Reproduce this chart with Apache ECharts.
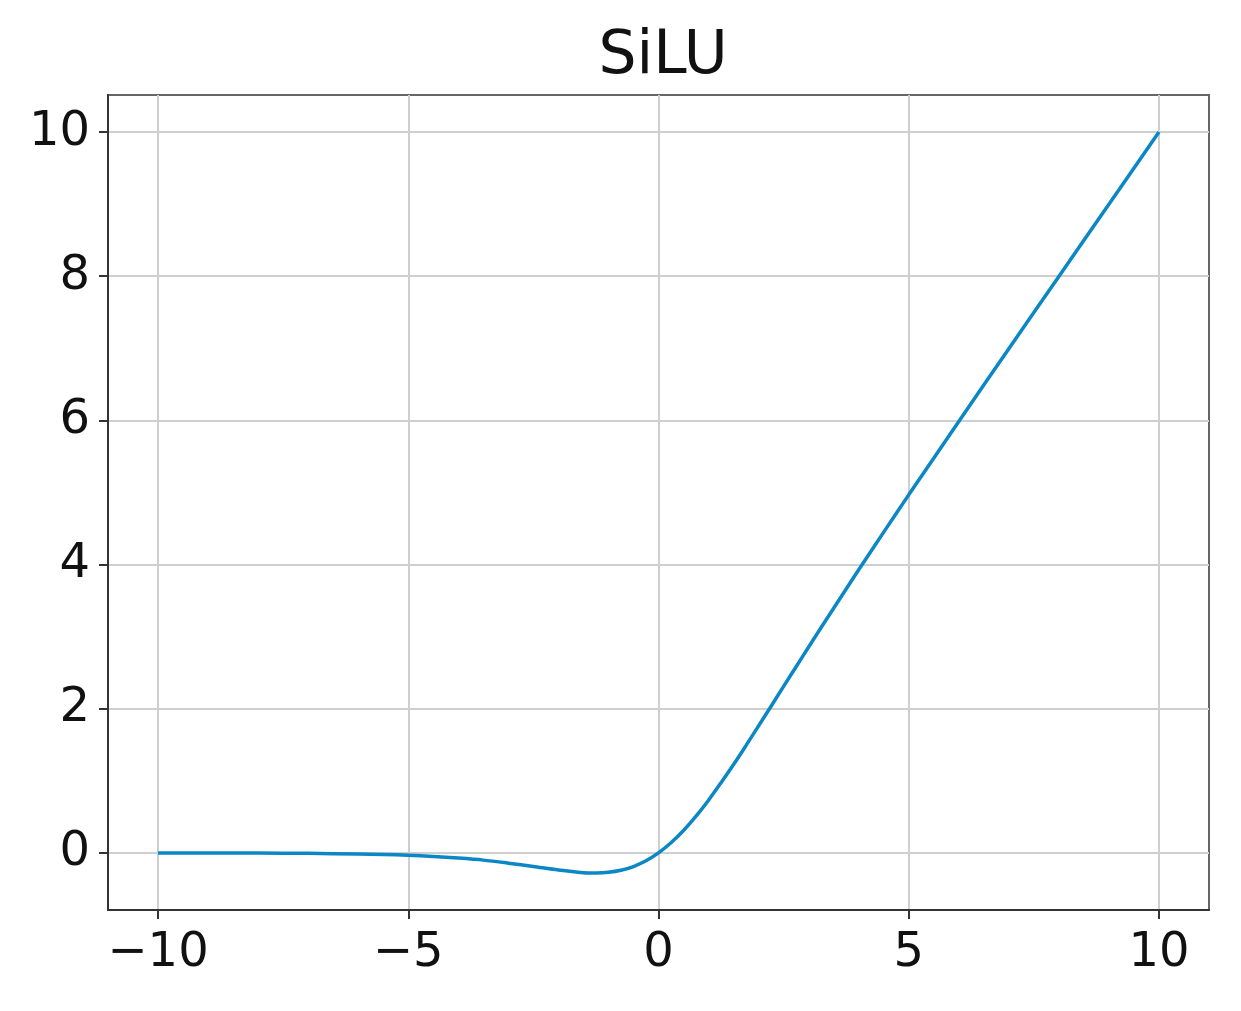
<!DOCTYPE html>
<html>
<head>
<meta charset="utf-8">
<title>SiLU</title>
<script src="https://cdn.jsdelivr.net/npm/echarts@6/dist/echarts.min.js"></script>
<style>
  html, body { margin: 0; padding: 0; background: #fff; }
  #chart { width: 1241px; height: 1011px; }
</style>
</head>
<body>
<div id="chart"></div>
<script>
// values
const xs = [-10, -9, -8, -7, -6, -5.5, -5, -4.5, -4, -3.5, -3, -2.5, -2, -1.5, -1.25, -1, -0.75, -0.5, -0.25,
  0, 0.25, 0.5, 0.75, 1, 1.25, 1.5, 1.75, 2, 2.25, 2.5, 2.75, 3, 3.5, 4, 4.5, 5, 6, 7, 8, 9, 10];
const ys = [-0.0005, -0.001, -0.003, -0.006, -0.015, -0.022, -0.033, -0.05, -0.072, -0.1, -0.142, -0.189, -0.238, -0.274, -0.278, -0.269, -0.241, -0.189, -0.11,
  0, 0.14, 0.311, 0.509, 0.731, 0.974, 1.226, 1.491, 1.762, 2.035, 2.31, 2.583, 2.857, 3.395, 3.928, 4.45, 4.967, 5.985, 6.994, 7.997, 8.999, 10];
const xTicks = [-10, -5, 0, 5, 10];
const yTicks = [0, 2, 4, 6, 8, 10];

const font = "DejaVu Sans";
const minus = (v) => String(v).replace("-", "\u2212");

const chart = echarts.init(document.getElementById("chart"));
chart.setOption({
  animation: false,
  title: {
    text: "SiLU",
    left: 658,
    textAlign: "center",
    top: 22,
    textStyle: { fontFamily: font, fontSize: 60, fontWeight: "normal", color: "#111" }
  },
  grid: {
    left: 108, right: 32, top: 95, bottom: 101,
    show: true, borderColor: "#666", borderWidth: 2, backgroundColor: "#fff"
  },
  xAxis: {
    type: "value",
    min: -11, max: 11,
    axisLine: { show: true, onZero: false, lineStyle: { color: "#333", width: 2 } },
    axisTick: { show: true, customValues: xTicks, length: 9, lineStyle: { color: "#333", width: 2 } },
    axisLabel: {
      customValues: xTicks, margin: 20, formatter: minus,
      fontFamily: font, fontSize: 48, color: "#111"
    },
    splitLine: { show: true, lineStyle: { color: "#cfcfcf", width: 2 } }
  },
  yAxis: {
    type: "value",
    min: -0.792, max: 10.514,
    axisLine: { show: true, onZero: false, lineStyle: { color: "#333", width: 2 } },
    axisTick: { show: true, customValues: yTicks, length: 9, lineStyle: { color: "#333", width: 2 } },
    axisLabel: {
      customValues: yTicks, margin: 18, formatter: minus,
      fontFamily: font, fontSize: 48, color: "#111"
    },
    splitLine: { show: true, lineStyle: { color: "#cfcfcf", width: 2 } }
  },
  series: [{
    type: "line",
    data: xs.map((x, i) => [x, ys[i]]),
    smooth: 0.3,
    showSymbol: false,
    lineStyle: { color: "#0b87c5", width: 3.5 }
  }]
});
</script>
</body>
</html>
